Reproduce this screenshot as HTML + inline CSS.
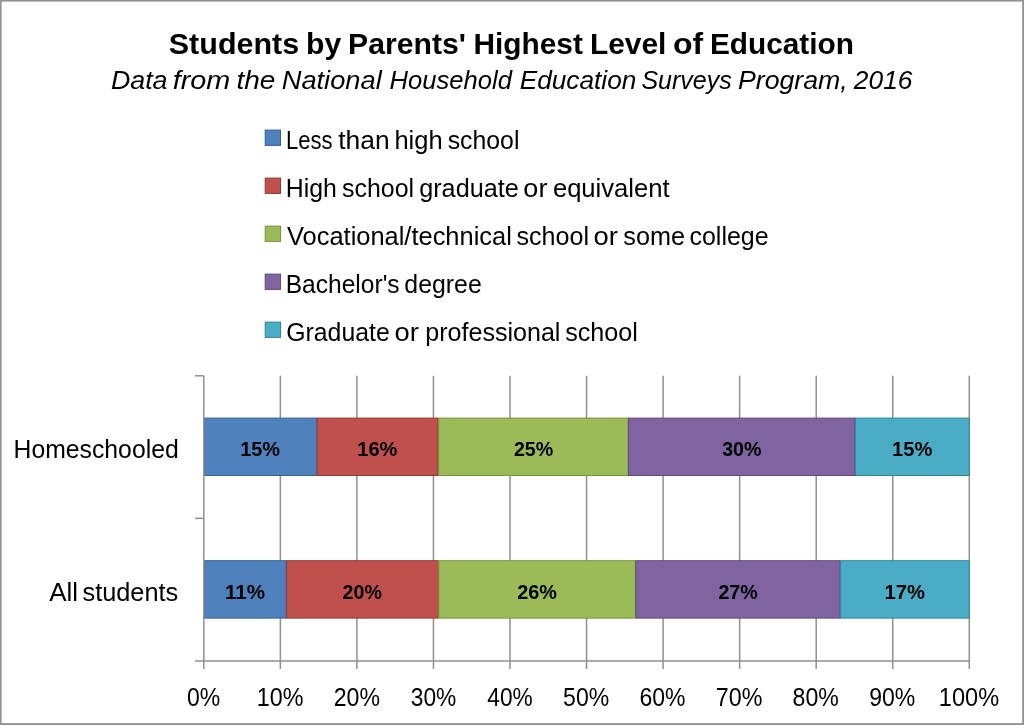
<!DOCTYPE html>
<html lang="en">
<head>
<meta charset="utf-8">
<title>Students by Parents' Highest Level of Education</title>
<style>
html,body{margin:0;padding:0;background:#fff;}
body{width:1024px;height:725px;overflow:hidden;}
svg{display:block;}
text{font-family:"Liberation Sans",sans-serif;fill:#000;}
.t{font-size:29.9px;font-weight:bold;}
.s{font-size:26px;font-style:italic;}
.l{font-size:25px;}
.a{font-size:25.2px;}
.d{font-size:20.5px;font-weight:bold;}
</style>
</head>
<body>
<svg width="1024" height="725" viewBox="0 0 1024 725">
<rect x="0" y="0" width="1024" height="725" fill="#ffffff"/>
<g fill="#929292"><rect x="0" y="0" width="1024" height="1.6"/><rect x="0" y="0" width="1.6" height="725"/><rect x="1022.2" y="0" width="1.8" height="725"/><rect x="0" y="723.1" width="1024" height="1.9"/></g>
<rect x="265.2" y="130.1" width="15.3" height="15.3" fill="#4F81BD" stroke="#376092" stroke-width="1"/>
<rect x="265.2" y="178.1" width="15.3" height="15.3" fill="#C0504D" stroke="#953735" stroke-width="1"/>
<rect x="265.2" y="226.1" width="15.3" height="15.3" fill="#9BBB59" stroke="#77933C" stroke-width="1"/>
<rect x="265.2" y="274.1" width="15.3" height="15.3" fill="#8064A2" stroke="#604A7B" stroke-width="1"/>
<rect x="265.2" y="322.1" width="15.3" height="15.3" fill="#4BACC6" stroke="#31859C" stroke-width="1"/>
<g stroke="#909090" stroke-width="1.5" fill="none">
<line x1="280.35" y1="375.8" x2="280.35" y2="669.1"/>
<line x1="356.90" y1="375.8" x2="356.90" y2="669.1"/>
<line x1="433.45" y1="375.8" x2="433.45" y2="669.1"/>
<line x1="510.00" y1="375.8" x2="510.00" y2="669.1"/>
<line x1="586.55" y1="375.8" x2="586.55" y2="669.1"/>
<line x1="663.10" y1="375.8" x2="663.10" y2="669.1"/>
<line x1="739.65" y1="375.8" x2="739.65" y2="669.1"/>
<line x1="816.20" y1="375.8" x2="816.20" y2="669.1"/>
<line x1="892.75" y1="375.8" x2="892.75" y2="669.1"/>
<line x1="969.30" y1="375.8" x2="969.30" y2="669.1"/>
</g>
<rect x="204.4" y="418.1" width="112.3" height="57.4" fill="#4F81BD" stroke="#376092" stroke-width="1"/>
<rect x="317.2" y="418.1" width="120.9" height="57.4" fill="#C0504D" stroke="#953735" stroke-width="1"/>
<rect x="438.6" y="418.1" width="189.5" height="57.4" fill="#9BBB59" stroke="#77933C" stroke-width="1"/>
<rect x="628.6" y="418.1" width="226.4" height="57.4" fill="#8064A2" stroke="#604A7B" stroke-width="1"/>
<rect x="855.5" y="418.1" width="113.8" height="57.4" fill="#4BACC6" stroke="#31859C" stroke-width="1"/>
<rect x="204.4" y="560.7" width="81.8" height="57.4" fill="#4F81BD" stroke="#376092" stroke-width="1"/>
<rect x="286.7" y="560.7" width="151.6" height="57.4" fill="#C0504D" stroke="#953735" stroke-width="1"/>
<rect x="438.8" y="560.7" width="196.6" height="57.4" fill="#9BBB59" stroke="#77933C" stroke-width="1"/>
<rect x="635.9" y="560.7" width="204.2" height="57.4" fill="#8064A2" stroke="#604A7B" stroke-width="1"/>
<rect x="840.6" y="560.7" width="128.7" height="57.4" fill="#4BACC6" stroke="#31859C" stroke-width="1"/>
<g stroke="#909090" stroke-width="1.5" fill="none">
<line x1="203.8" y1="375.8" x2="203.8" y2="669.1"/>
<line x1="195.0" y1="660.9" x2="970.0" y2="660.9"/>
<line x1="195.0" y1="375.8" x2="203.8" y2="375.8"/>
<line x1="195.0" y1="518.35" x2="203.8" y2="518.35"/>
</g>
<text class="t" y="54.3"><tspan x="168.78" textLength="130.43" lengthAdjust="spacingAndGlyphs">Students</tspan> <tspan x="306.08" textLength="35.26" lengthAdjust="spacingAndGlyphs">by</tspan> <tspan x="348.10" textLength="117.82" lengthAdjust="spacingAndGlyphs">Parents'</tspan> <tspan x="473.45" textLength="109.40" lengthAdjust="spacingAndGlyphs">Highest</tspan> <tspan x="589.95" textLength="76.41" lengthAdjust="spacingAndGlyphs">Level</tspan> <tspan x="673.03" textLength="30.15" lengthAdjust="spacingAndGlyphs">of</tspan> <tspan x="709.92" textLength="144.05" lengthAdjust="spacingAndGlyphs">Education</tspan></text>
<text class="s" y="88.5"><tspan x="110.91" textLength="56.58" lengthAdjust="spacingAndGlyphs">Data</tspan> <tspan x="172.75" textLength="57.60" lengthAdjust="spacingAndGlyphs">from</tspan> <tspan x="236.41" textLength="38.98" lengthAdjust="spacingAndGlyphs">the</tspan> <tspan x="281.72" textLength="99.98" lengthAdjust="spacingAndGlyphs">National</tspan> <tspan x="389.49" textLength="122.40" lengthAdjust="spacingAndGlyphs">Household</tspan> <tspan x="519.69" textLength="116.68" lengthAdjust="spacingAndGlyphs">Education</tspan> <tspan x="641.38" textLength="90.35" lengthAdjust="spacingAndGlyphs">Surveys</tspan> <tspan x="738.03" textLength="109.69" lengthAdjust="spacingAndGlyphs">Program,</tspan> <tspan x="853.88" textLength="58.60" lengthAdjust="spacingAndGlyphs">2016</tspan></text>
<text class="l" y="149.2"><tspan x="286.03" textLength="46.61" lengthAdjust="spacingAndGlyphs">Less</tspan> <tspan x="338.26" textLength="51.36" lengthAdjust="spacingAndGlyphs">than</tspan> <tspan x="394.40" textLength="48.17" lengthAdjust="spacingAndGlyphs">high</tspan> <tspan x="447.63" textLength="71.78" lengthAdjust="spacingAndGlyphs">school</tspan></text>
<text class="l" y="197.1"><tspan x="285.87" textLength="51.06" lengthAdjust="spacingAndGlyphs">High</tspan> <tspan x="342.06" textLength="72.05" lengthAdjust="spacingAndGlyphs">school</tspan> <tspan x="419.19" textLength="99.59" lengthAdjust="spacingAndGlyphs">graduate</tspan> <tspan x="523.39" textLength="24.03" lengthAdjust="spacingAndGlyphs">or</tspan> <tspan x="552.90" textLength="116.75" lengthAdjust="spacingAndGlyphs">equivalent</tspan></text>
<text class="l" y="245.0"><tspan x="287.00" textLength="224.80" lengthAdjust="spacingAndGlyphs">Vocational/technical</tspan> <tspan x="516.49" textLength="72.57" lengthAdjust="spacingAndGlyphs">school</tspan> <tspan x="593.54" textLength="24.35" lengthAdjust="spacingAndGlyphs">or</tspan> <tspan x="623.39" textLength="61.73" lengthAdjust="spacingAndGlyphs">some</tspan> <tspan x="689.46" textLength="79.16" lengthAdjust="spacingAndGlyphs">college</tspan></text>
<text class="l" y="292.9"><tspan x="285.74" textLength="113.88" lengthAdjust="spacingAndGlyphs">Bachelor's</tspan> <tspan x="404.34" textLength="77.42" lengthAdjust="spacingAndGlyphs">degree</tspan></text>
<text class="l" y="340.8"><tspan x="286.26" textLength="103.44" lengthAdjust="spacingAndGlyphs">Graduate</tspan> <tspan x="394.57" textLength="24.32" lengthAdjust="spacingAndGlyphs">or</tspan> <tspan x="425.24" textLength="135.20" lengthAdjust="spacingAndGlyphs">professional</tspan> <tspan x="565.13" textLength="72.70" lengthAdjust="spacingAndGlyphs">school</tspan></text>
<text class="l" y="458.1"><tspan x="13.59" textLength="165.10" lengthAdjust="spacingAndGlyphs">Homeschooled</tspan></text>
<text class="l" y="600.7"><tspan x="49.24" textLength="28.83" lengthAdjust="spacingAndGlyphs">All</tspan> <tspan x="82.50" textLength="95.70" lengthAdjust="spacingAndGlyphs">students</tspan></text>
<text class="a" y="705.6"><tspan x="187.05" textLength="33.25" lengthAdjust="spacingAndGlyphs">0%</tspan></text>
<text class="a" y="705.6"><tspan x="256.85" textLength="46.71" lengthAdjust="spacingAndGlyphs">10%</tspan></text>
<text class="a" y="705.6"><tspan x="333.77" textLength="46.26" lengthAdjust="spacingAndGlyphs">20%</tspan></text>
<text class="a" y="705.6"><tspan x="410.81" textLength="45.55" lengthAdjust="spacingAndGlyphs">30%</tspan></text>
<text class="a" y="705.6"><tspan x="487.26" textLength="45.45" lengthAdjust="spacingAndGlyphs">40%</tspan></text>
<text class="a" y="705.6"><tspan x="563.11" textLength="46.06" lengthAdjust="spacingAndGlyphs">50%</tspan></text>
<text class="a" y="705.6"><tspan x="639.41" textLength="45.98" lengthAdjust="spacingAndGlyphs">60%</tspan></text>
<text class="a" y="705.6"><tspan x="715.79" textLength="46.63" lengthAdjust="spacingAndGlyphs">70%</tspan></text>
<text class="a" y="705.6"><tspan x="792.57" textLength="46.22" lengthAdjust="spacingAndGlyphs">80%</tspan></text>
<text class="a" y="705.6"><tspan x="869.26" textLength="46.11" lengthAdjust="spacingAndGlyphs">90%</tspan></text>
<text class="a" y="705.6"><tspan x="938.81" textLength="60.30" lengthAdjust="spacingAndGlyphs">100%</tspan></text>
<text class="d" y="456.3"><tspan x="240.13" textLength="39.95" lengthAdjust="spacingAndGlyphs">15%</tspan></text>
<text class="d" y="456.3"><tspan x="357.24" textLength="40.16" lengthAdjust="spacingAndGlyphs">16%</tspan></text>
<text class="d" y="456.3"><tspan x="513.88" textLength="39.37" lengthAdjust="spacingAndGlyphs">25%</tspan></text>
<text class="d" y="456.3"><tspan x="722.16" textLength="39.26" lengthAdjust="spacingAndGlyphs">30%</tspan></text>
<text class="d" y="456.3"><tspan x="892.00" textLength="40.28" lengthAdjust="spacingAndGlyphs">15%</tspan></text>
<text class="d" y="598.7"><tspan x="225.05" textLength="40.06" lengthAdjust="spacingAndGlyphs">11%</tspan></text>
<text class="d" y="598.7"><tspan x="342.56" textLength="39.31" lengthAdjust="spacingAndGlyphs">20%</tspan></text>
<text class="d" y="598.7"><tspan x="517.26" textLength="39.67" lengthAdjust="spacingAndGlyphs">26%</tspan></text>
<text class="d" y="598.7"><tspan x="718.40" textLength="39.36" lengthAdjust="spacingAndGlyphs">27%</tspan></text>
<text class="d" y="598.7"><tspan x="884.44" textLength="40.46" lengthAdjust="spacingAndGlyphs">17%</tspan></text>
</svg>
</body>
</html>
